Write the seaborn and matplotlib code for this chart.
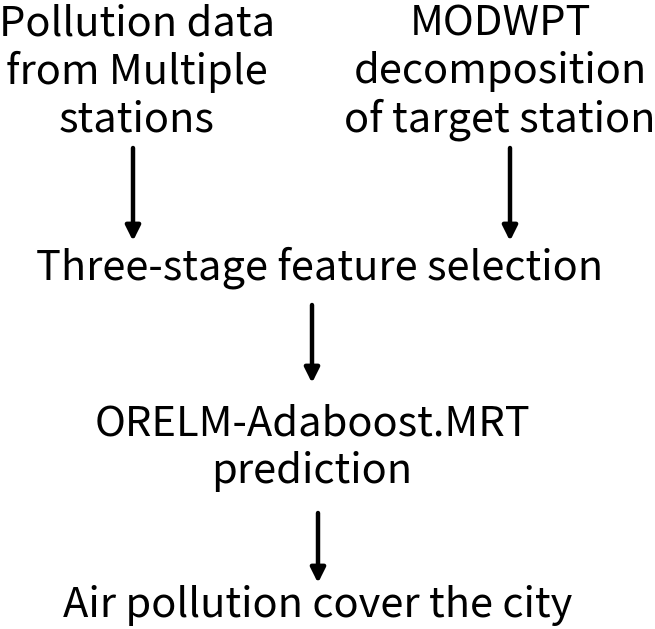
import matplotlib
matplotlib.use('Agg')
import matplotlib.pyplot as plt
import seaborn as sns

# Flowchart content
box_texts = [
    'Pollution data\nfrom Multiple\nstations',
    'MODWPT\ndecomposition\nof target station',
    'Three-stage feature selection',
    'ORELM-Adaboost.MRT\nprediction',
    'Air pollution cover the city',
]
# (x, y) centers in pixel coordinates (y down)
box_pos = [(137, 72), (500, 72), (320, 268), (312, 448), (318, 605)]

# arrows: (x, y_start, y_end)
arrows = [(133, 148, 241), (510, 148, 241), (312, 305, 383), (318, 513, 583)]

sns.set_theme(style='white')
plt.rcParams['font.family'] = ['Noto Sans CJK SC', 'DejaVu Sans']

fig, ax = plt.subplots(figsize=(6.55, 6.29), dpi=100)
fig.subplots_adjust(0, 0, 1, 1)
ax.set_xlim(0, 655)
ax.set_ylim(629, 0)
ax.axis('off')

for txt, (x, y) in zip(box_texts, box_pos):
    ax.text(x, y, txt, ha='center', va='center', fontsize=30,
            linespacing=1.2, color='black')

for x, y0, y1 in arrows:
    ax.annotate('', xy=(x, y1), xytext=(x, y0),
                arrowprops=dict(arrowstyle='-|>', lw=3.2, color='black',
                                mutation_scale=22, shrinkA=0, shrinkB=0))

fig.savefig('out.png', dpi=100)
